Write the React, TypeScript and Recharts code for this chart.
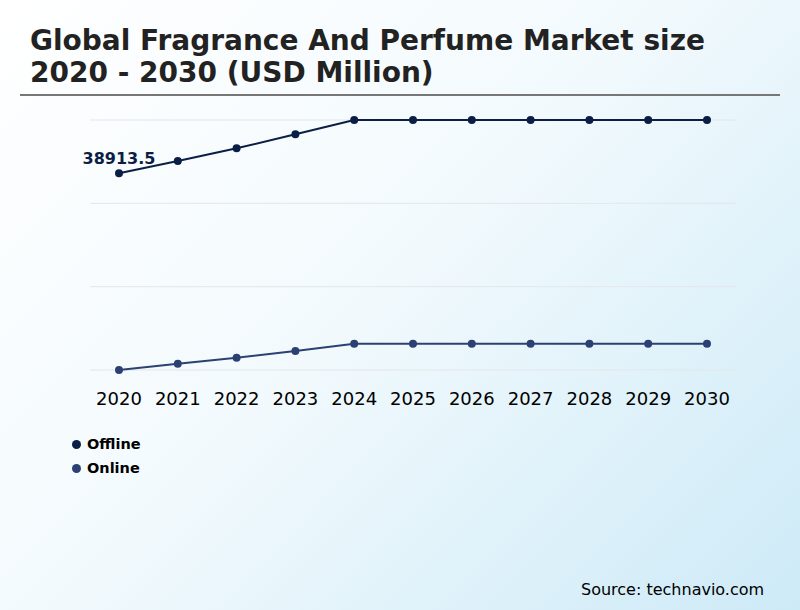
import React from 'react';
import { LineChart, Line, XAxis, YAxis, CartesianGrid, Legend, LabelList } from 'recharts';

const years = ['2020', '2021', '2022', '2023', '2024', '2025', '2026', '2027', '2028', '2029', '2030'];
const offline = [38913.5, 40816, 42780, 44944, 47155, 47155, 47155, 47155, 47155, 47155, 47155];
const online = [8500, 9474, 10402, 11438, 12567, 12567, 12567, 12567, 12567, 12567, 12567];

const COLORS = {
  offline: '#0b1e45',
  online: '#2c4173'
};

const yMin = Math.min(...online);
const yMax = Math.max(...offline);
const yTicks = [0, 1, 2, 3].map(i => Math.round(yMin + ((yMax - yMin) * i) / 3));

const FONT = '"DejaVu Sans", sans-serif';

export default function App() {
  const data = years.map((year, i) => ({ year, Offline: offline[i], Online: online[i] }));

  const renderLegend = (props: any) => {
    const { payload } = props;
    return (
      <div style={{ fontFamily: FONT }}>
        {payload.map((entry: any) => (
          <div key={entry.value} style={{ display: 'flex', alignItems: 'center', height: 24 }}>
            <span
              style={{
                display: 'inline-block',
                width: 9,
                height: 9,
                borderRadius: '50%',
                background: entry.color,
                marginRight: 6
              }}
            />
            <span style={{ fontSize: 14.5, fontWeight: 'bold', color: '#000' }}>{entry.value}</span>
          </div>
        ))}
      </div>
    );
  };

  return (
    <div
      style={{
        position: 'absolute',
        left: 0,
        top: 0,
        width: 800,
        height: 610,
        overflow: 'hidden',
        background: 'linear-gradient(135deg, #ffffff 0%, #f3fafd 45%, #cdeaf7 100%)',
        fontFamily: FONT
      }}
    >
      <div
        style={{
          position: 'absolute',
          left: 30,
          top: 25,
          fontSize: 28,
          fontWeight: 'bold',
          lineHeight: '32px',
          color: '#222'
        }}
      >
        Global Fragrance And Perfume Market size
        <br />
        2020 - 2030 (USD Million)
      </div>
      <div style={{ position: 'absolute', left: 20, top: 94, width: 760, height: 2, background: '#777' }} />

      <div style={{ position: 'absolute', left: 0, top: 0 }}>
        <LineChart
          width={800}
          height={610}
          data={data}
          margin={{ top: 120, right: 64, bottom: 210, left: 90 }}
        >
          <CartesianGrid vertical={false} stroke="#e3e6ea" />
          <XAxis
            dataKey="year"
            axisLine={false}
            tickLine={false}
            padding={{ left: 29, right: 29 }}
            tickMargin={16}
            tick={{ fontSize: 18, fill: '#000', fontFamily: FONT }}
            interval={0}
          />
          <YAxis
            type="number"
            domain={[yMin, yMax]}
            ticks={yTicks}
            interval={0}
            width={0}
            tick={() => <g />}
            axisLine={false}
            tickLine={false}
          />
          <Legend
            layout="vertical"
            align="center"
            verticalAlign="middle"
            wrapperStyle={{ left: 72, top: 432, width: 120 }}
            content={renderLegend}
          />
          <Line
            type="linear"
            dataKey="Offline"
            stroke={COLORS.offline}
            strokeWidth={2}
            dot={{ r: 3, fill: COLORS.offline, stroke: COLORS.offline }}
            isAnimationActive={false}
          >
            <LabelList
              dataKey="Offline"
              position="top"
              content={(p: any) =>
                p.index === 0 ? (
                  <text
                    x={p.x}
                    y={p.y - 9}
                    textAnchor="middle"
                    fontSize={16}
                    fontWeight="bold"
                    fill={COLORS.offline}
                    fontFamily={FONT}
                  >
                    {p.value}
                  </text>
                ) : null
              }
            />
          </Line>
          <Line
            type="linear"
            dataKey="Online"
            stroke={COLORS.online}
            strokeWidth={2}
            dot={{ r: 3, fill: COLORS.online, stroke: COLORS.online }}
            isAnimationActive={false}
          />
        </LineChart>
      </div>

      <div style={{ position: 'absolute', left: 581, top: 580, fontSize: 16, color: '#000' }}>
        Source: technavio.com
      </div>
    </div>
  );
}
